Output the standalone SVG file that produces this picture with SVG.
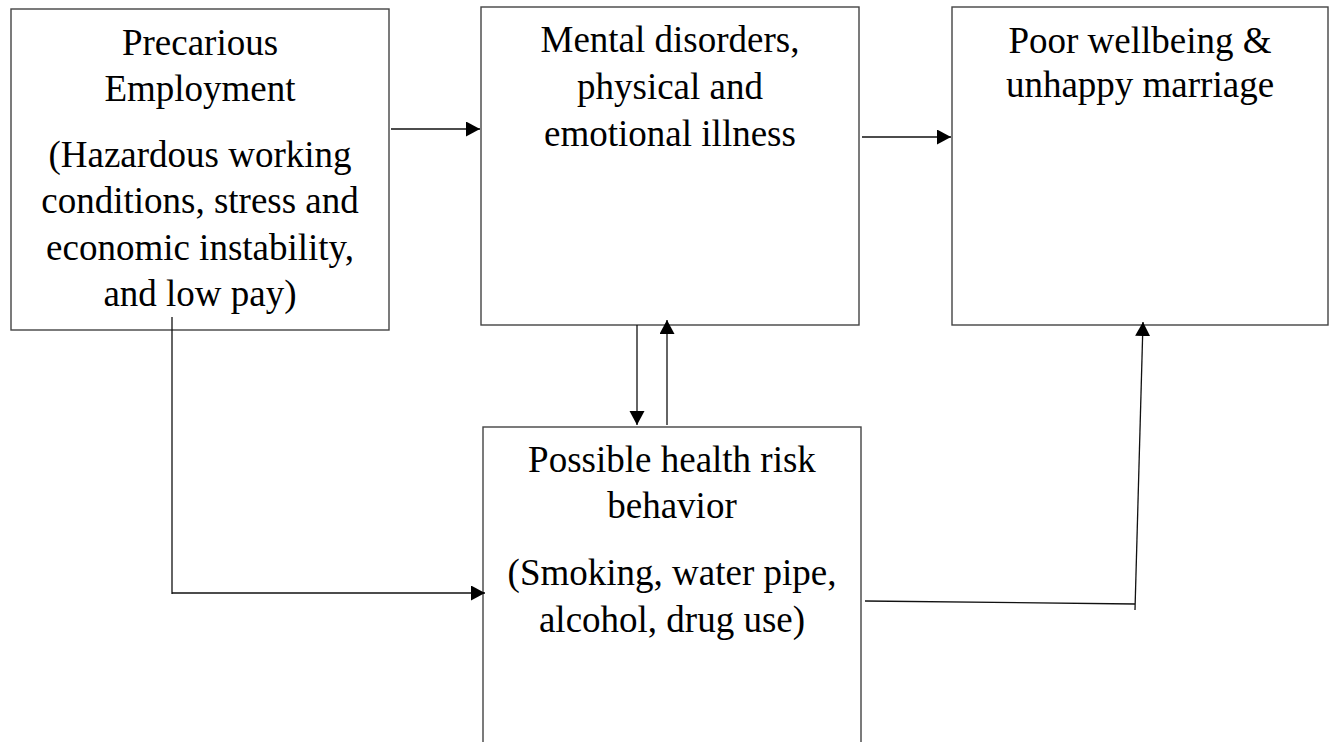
<svg xmlns="http://www.w3.org/2000/svg" width="1334" height="742" viewBox="0 0 1334 742">
  <style>
    .box { fill: #ffffff; stroke: #444444; stroke-width: 1.4; }
    .lbl { font-family: "Liberation Serif", "Times New Roman", serif; font-size: 37px; fill: #000000; text-anchor: middle; }
    .conn { fill: none; stroke: #111111; stroke-width: 1.3; }
  </style>
  <defs>
    <marker id="arrow" markerUnits="userSpaceOnUse" markerWidth="15" markerHeight="16" refX="14" refY="7.5" orient="auto">
      <path d="M0,0 L14,7.5 L0,15 z" fill="#000000"/>
    </marker>
  </defs>
  <rect x="0" y="0" width="1334" height="742" fill="#ffffff"/>

  <g id="node-precarious">
    <rect class="box" x="11" y="9" width="378" height="321"/>
    <text class="lbl" x="200" y="55">Precarious</text>
    <text class="lbl" x="200" y="101">Employment</text>
    <text class="lbl" x="200" y="167">(Hazardous working</text>
    <text class="lbl" x="200" y="213">conditions, stress and</text>
    <text class="lbl" x="200" y="260">economic instability,</text>
    <text class="lbl" x="200" y="306">and low pay)</text>
  </g>

  <g id="node-mental">
    <rect class="box" x="481" y="7" width="378" height="318"/>
    <text class="lbl" x="670" y="52">Mental disorders,</text>
    <text class="lbl" x="670" y="99">physical and</text>
    <text class="lbl" x="670" y="146">emotional illness</text>
  </g>

  <g id="node-wellbeing">
    <rect class="box" x="952" y="7" width="376" height="318"/>
    <text class="lbl" x="1140" y="53">Poor wellbeing &amp;</text>
    <text class="lbl" x="1140" y="97">unhappy marriage</text>
  </g>

  <g id="node-behavior">
    <rect class="box" x="483" y="427" width="378" height="330"/>
    <text class="lbl" x="672" y="472">Possible health risk</text>
    <text class="lbl" x="672" y="518">behavior</text>
    <text class="lbl" x="672" y="585">(Smoking, water pipe,</text>
    <text class="lbl" x="672" y="632">alcohol, drug use)</text>
  </g>

  <g id="connectors">
    <line class="conn" x1="391" y1="129" x2="480" y2="129" marker-end="url(#arrow)"/>
    <line class="conn" x1="862" y1="137" x2="951" y2="137" marker-end="url(#arrow)"/>
    <line class="conn" x1="637" y1="325" x2="637" y2="425" marker-end="url(#arrow)"/>
    <line class="conn" x1="667" y1="425" x2="667" y2="320" marker-end="url(#arrow)"/>
    <polyline class="conn" points="172,317 172,594"/>
    <line class="conn" x1="172" y1="593" x2="485" y2="593" marker-end="url(#arrow)"/>
    <line class="conn" x1="865" y1="601" x2="1135" y2="604"/>
    <line class="conn" x1="1135" y1="610" x2="1143" y2="322" marker-end="url(#arrow)"/>
  </g>
</svg>
